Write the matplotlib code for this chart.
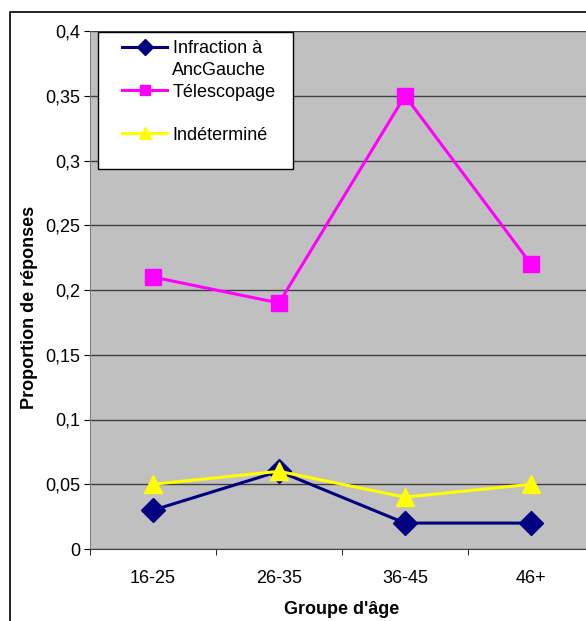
import matplotlib.pyplot as plt
from matplotlib.patches import Rectangle

plt.rcParams['font.family'] = ['Liberation Sans', 'DejaVu Sans']

groups = ['16-25', '26-35', '36-45', '46+']
infraction = [0.03, 0.06, 0.02, 0.02]
telescopage = [0.21, 0.19, 0.35, 0.22]
indetermine = [0.05, 0.06, 0.04, 0.05]
y_ticks = [0, 0.05, 0.1, 0.15, 0.2, 0.25, 0.3, 0.35, 0.4]
y_tick_labels = ['0', '0,05', '0,1', '0,15', '0,2', '0,25', '0,3', '0,35', '0,4']

W, H = 586, 621
fig = plt.figure(figsize=(W / 100, H / 100), dpi=100)

# outer chart border (extends past the right/bottom edge like the source)
fig.patches.append(Rectangle((10 / W, -0.05), 1.1, 1 - 12 / H + 0.05,
                             transform=fig.transFigure, fill=False,
                             edgecolor='black', linewidth=1.2))

ax = fig.add_axes([90 / W, 1 - 549 / H, 504 / W, 518 / H])
ax.set_facecolor('#C0C0C0')

x = list(range(len(groups)))
ax.plot(x, infraction, color='#000080', marker='D', markersize=12, linewidth=2.2,
        label='Infraction à')
ax.plot(x, telescopage, color='#FF00FF', marker='s', markersize=11.5, linewidth=2.2,
        label='Télescopage')
ax.plot(x, indetermine, color='#FFFF00', marker='^', markersize=13, linewidth=2.2,
        label='Indéterminé')

ax.set_xlim(-0.5, len(groups) - 0.5)
ax.set_ylim(0, 0.4)
ax.set_yticks(y_ticks)
ax.set_yticklabels(y_tick_labels, fontsize=13)
ax.set_xticks(x)
ax.set_xticklabels(groups, fontsize=13)
ax.set_xticks([i + 0.5 for i in range(-1, len(groups))], minor=True)
ax.tick_params(axis='x', which='major', length=0, pad=15)
ax.tick_params(axis='x', which='minor', length=4, direction='out', color='black')
ax.tick_params(axis='y', length=4, direction='out', color='black', pad=3)

ax.grid(axis='y', color='#404040', linewidth=1)
ax.set_axisbelow(True)
for s in ['top', 'right']:
    ax.spines[s].set_visible(False)
ax.spines['left'].set_color('#808080')
ax.spines['bottom'].set_color('#404040')

ax.set_xlabel("Groupe d'âge", fontsize=13, fontweight='bold', labelpad=10)
ax.set_ylabel('Proportion de réponses', fontsize=13, fontweight='bold')
ax.yaxis.set_label_coords(-0.103, 0.467)

# legend box (white frame), legend entries drawn on top without their own frame
ax.add_patch(Rectangle((0.0159, 0.7336), 0.3869, 0.2644, transform=ax.transAxes,
                       facecolor='white', edgecolor='black', linewidth=1,
                       zorder=4, clip_on=False))
leg = ax.legend(loc='upper left', bbox_to_anchor=(0.0635, 0.982), fontsize=13,
                frameon=False, borderpad=0, labelspacing=1.45, handlelength=2.5,
                handletextpad=0.3, borderaxespad=0, markerscale=0.65)
# second line of the first legend label, placed like the original
ax.text(0.163, 0.923, 'AncGauche', transform=ax.transAxes, fontsize=13,
        va='center', ha='left', zorder=10)

fig.savefig('out.png', dpi=100)
